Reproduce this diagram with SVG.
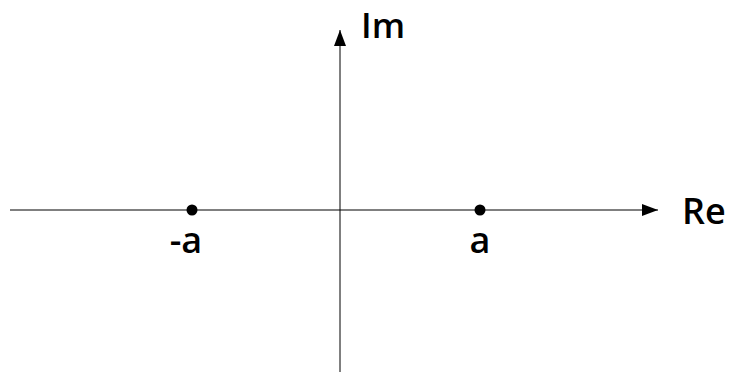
<svg xmlns="http://www.w3.org/2000/svg" width="730" height="374" viewBox="0 0 730 374">
<style>
.ax{stroke:#000;stroke-width:1;fill:none}
.lbl{font-family:"Open Sans","Noto Sans",sans-serif;font-size:36px;font-weight:600;fill:#000}
</style>
<defs>
<marker id="arr" viewBox="0 0 16 12" refX="16" refY="6" markerWidth="16" markerHeight="12" markerUnits="userSpaceOnUse" orient="auto">
<path d="M0,0 L16,6 L0,12 Z" fill="#000"/>
</marker>
</defs>
<rect width="730" height="374" fill="#fff"/>
<g id="connectors">
<line class="ax" x1="10" y1="210" x2="658" y2="210" marker-end="url(#arr)"/>
<line class="ax" x1="340" y1="372" x2="340" y2="30" marker-end="url(#arr)"/>
</g>
<g id="im-label"><text class="lbl" x="361" y="38" style="font-size:35px">Im</text></g>
<g id="re-label"><text class="lbl" x="682" y="224">Re</text></g>
<g id="point-neg-a"><circle cx="192" cy="210" r="5.5" fill="#000"/><text class="lbl" x="186" y="253" text-anchor="middle">-a</text></g>
<g id="point-a"><circle cx="480" cy="210" r="5.5" fill="#000"/><text class="lbl" x="480" y="253" text-anchor="middle">a</text></g>
</svg>
